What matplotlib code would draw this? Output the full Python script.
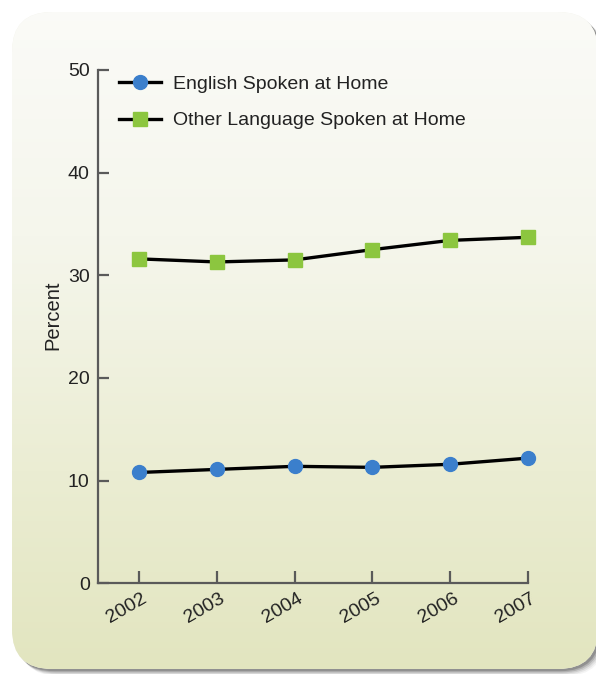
import numpy as np
import matplotlib
matplotlib.use("Agg")
import matplotlib.pyplot as plt
from matplotlib.patches import FancyBboxPatch
from matplotlib.colors import LinearSegmentedColormap
import matplotlib.transforms as mtransforms

plt.rcParams['font.family'] = ['Liberation Sans', 'DejaVu Sans']

years = [2002, 2003, 2004, 2005, 2006, 2007]
english = [10.8, 11.1, 11.4, 11.3, 11.6, 12.2]
other = [31.6, 31.3, 31.5, 32.5, 33.4, 33.7]
series_labels = ["English Spoken at Home", "Other Language Spoken at Home"]
yticks = [0, 10, 20, 30, 40, 50]

W, H = 596, 674
fig = plt.figure(figsize=(W / 100, H / 100), dpi=100)
fig.patch.set_facecolor('white')

# background card
bg = fig.add_axes([0, 0, 1, 1])
bg.set_xlim(0, W)
bg.set_ylim(H, 0)
bg.axis('off')
cx0, cy0, cw, ch = 12, 12, 586, 657
for i, a in enumerate([0.05, 0.08, 0.12, 0.18, 0.25]):
    off = 7 - i * 1.2
    sh = FancyBboxPatch((cx0 + off, cy0 + off), cw, ch,
                        boxstyle='round,pad=0,rounding_size=40',
                        facecolor='#303030', edgecolor='none', alpha=a)
    bg.add_patch(sh)
card = FancyBboxPatch((cx0, cy0), cw, ch,
                      boxstyle='round,pad=0,rounding_size=40',
                      facecolor='#f2f2e6', edgecolor='none')
bg.add_patch(card)
cmap = LinearSegmentedColormap.from_list('g', [(0, '#fbfbf8'), (0.35, '#f5f6ec'), (0.7, '#ebedd3'), (1, '#e2e5bf')])
grad = np.linspace(0, 1, 256).reshape(-1, 1)
im = bg.imshow(grad, extent=(0, W, H, 0), cmap=cmap, aspect='auto', zorder=1)
im.set_clip_path(card)

# plot axes
left, right = 98 / W, 528 / W
bottom, top = (H - 583.4) / H, (H - 69.9) / H
ax = fig.add_axes([left, bottom, right - left, top - bottom])
ax.patch.set_alpha(0)

ax.plot(years, english, color='black', lw=2.4, marker='o', markersize=10,
        markerfacecolor='#3b7fcc', markeredgecolor='#3b7fcc', label=series_labels[0],
        zorder=3, clip_on=False)
ax.plot(years, other, color='black', lw=2.4, marker='s', markersize=9.5,
        markerfacecolor='#8cc63f', markeredgecolor='#8cc63f', label=series_labels[1],
        zorder=3, clip_on=False)

ax.set_xlim(2002 - 41 / 77.8, 2007)
ax.set_ylim(0, 50)
ax.set_yticks(yticks)
ax.set_xticks(years)
ax.set_xticklabels([])
lab_off = mtransforms.ScaledTranslation(-12 / 100, -25 / 100, fig.dpi_scale_trans)
for y in years:
    ax.text(y, 0, str(y), transform=ax.transData + lab_off, rotation=30,
            ha='center', va='center', fontsize=14, color='#222222', clip_on=False)

for s in ['top', 'right']:
    ax.spines[s].set_visible(False)
for s in ['left', 'bottom']:
    ax.spines[s].set_color('#5a5a5a')
    ax.spines[s].set_linewidth(1.6)
ax.tick_params(axis='y', direction='in', length=8, width=1.6, color='#5a5a5a',
               labelsize=14, pad=6, labelcolor='#222222')
ax.tick_params(axis='x', direction='in', length=9, width=1.6, color='#5a5a5a')
ax.set_ylabel('Percent', fontsize=14.5, color='#222222')
ax.yaxis.set_label_coords(-36 / 430, (583.4 - 315) / 513.5)

leg = ax.legend(loc='upper left', bbox_to_anchor=(0.03, 1.004), frameon=False,
                fontsize=14, handlelength=2.2, handletextpad=0.6, labelspacing=0.95,
                borderaxespad=0)
for t in leg.get_texts():
    t.set_color('#222222')

fig.savefig('out.png', dpi=100, facecolor='white')
